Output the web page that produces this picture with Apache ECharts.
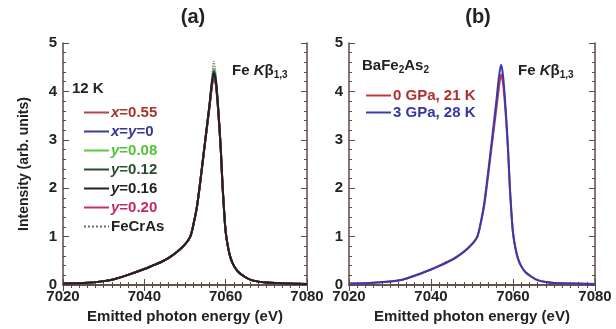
<!DOCTYPE html>
<html>
<head>
<meta charset="utf-8">
<script src="https://cdn.jsdelivr.net/npm/echarts@6/dist/echarts.min.js"></script>
<style>
  html, body { margin: 0; padding: 0; background: #fff; }
  #chart { width: 616px; height: 329px; }
</style>
</head>
<body>
<div id="chart"></div>
<script>
// emitted photon energy (eV), shared by every curve
const energy = [7020, 7025, 7030, 7033, 7036, 7040, 7042, 7044, 7046, 7048, 7050, 7051.3, 7052.2, 7053, 7054, 7055,
  7056, 7056.6, 7057.1, 7057.6, 7058.2, 7058.8, 7059.2, 7059.6, 7060, 7060.5, 7061.2, 7062, 7063, 7064.5, 7066, 7068, 7070, 7075, 7080];

// panel (a): 12 K
const x055 = [0.03,0.04,0.08,0.13,0.21,0.33,0.40,0.47,0.56,0.68,0.84,1.0,1.3,1.65,2.3,3.0,3.65,4.1,4.3,4.12,3.55,2.8,2.1,1.55,1.1,0.82,0.56,0.4,0.28,0.18,0.11,0.07,0.05,0.03,0.02];
const xy0  = [0.03,0.04,0.08,0.13,0.21,0.33,0.40,0.47,0.56,0.68,0.84,1.0,1.3,1.65,2.3,3.0,3.7,4.17,4.42,4.22,3.6,2.8,2.1,1.55,1.1,0.82,0.56,0.4,0.28,0.18,0.11,0.07,0.05,0.03,0.02];
const y008 = [0.03,0.04,0.08,0.13,0.21,0.33,0.40,0.47,0.56,0.68,0.84,1.0,1.3,1.66,2.32,3.02,3.72,4.2,4.48,4.28,3.62,2.82,2.1,1.55,1.1,0.82,0.56,0.4,0.28,0.18,0.11,0.07,0.05,0.03,0.02];
const y012 = [0.03,0.04,0.08,0.13,0.21,0.33,0.40,0.47,0.56,0.68,0.84,1.0,1.3,1.65,2.3,3.0,3.68,4.12,4.34,4.16,3.58,2.8,2.1,1.55,1.1,0.82,0.56,0.4,0.28,0.18,0.11,0.07,0.05,0.03,0.02];
const y016 = [0.03,0.04,0.08,0.13,0.21,0.33,0.40,0.47,0.56,0.68,0.84,1.0,1.3,1.65,2.3,3.0,3.7,4.15,4.38,4.2,3.6,2.8,2.1,1.55,1.1,0.82,0.56,0.4,0.28,0.18,0.11,0.07,0.05,0.03,0.02];
const y020 = [0.03,0.04,0.08,0.13,0.21,0.33,0.40,0.47,0.56,0.68,0.84,1.0,1.3,1.65,2.3,3.0,3.66,4.1,4.3,4.14,3.56,2.8,2.1,1.55,1.1,0.82,0.56,0.4,0.28,0.18,0.11,0.07,0.05,0.03,0.02];
const fecras = [0.03,0.04,0.08,0.13,0.21,0.33,0.40,0.47,0.56,0.68,0.84,1.0,1.3,1.66,2.33,3.05,3.75,4.3,4.62,4.35,3.65,2.82,2.1,1.55,1.1,0.82,0.56,0.4,0.28,0.18,0.11,0.07,0.05,0.03,0.02];

// panel (b): BaFe2As2 under pressure
const gpa0 = [0.03,0.04,0.07,0.11,0.19,0.32,0.40,0.48,0.57,0.69,0.85,1.0,1.3,1.65,2.3,3.0,3.68,4.1,4.35,4.15,3.55,2.75,2.05,1.5,1.08,0.8,0.55,0.39,0.27,0.17,0.1,0.06,0.04,0.03,0.02];
const gpa3 = [0.03,0.04,0.07,0.11,0.19,0.32,0.39,0.47,0.56,0.68,0.84,1.0,1.32,1.7,2.38,3.1,3.85,4.32,4.55,4.3,3.65,2.8,2.08,1.52,1.08,0.8,0.55,0.39,0.27,0.17,0.1,0.06,0.04,0.03,0.02];

const xTicks = [7020, 7040, 7060, 7080];
const yTicks = [0, 1, 2, 3, 4, 5];

const FONT = 'Liberation Sans, Arial, sans-serif';
const AXIS = '#5a4a42';

const pairs = ys => energy.map((e, i) => [e, ys[i]]);

// [name, values, line colour, text colour, dotted]
const seriesA = [
  ['FeCrAs', fecras, '#6a6a6a', '#222', true],
  ['y=0.08', y008, '#5cc83a', '#55c03a', false],
  ['x=0.55', x055, '#b0483c', '#a8342c', false],
  ['x=y=0', xy0, '#3a3aa8', '#3535a0', false],
  ['y=0.12', y012, '#2e4a2e', '#2c4c2c', false],
  ['y=0.20', y020, '#c8306a', '#c02a6a', false],
  ['y=0.16', y016, '#222222', '#222', false]
];
const legendOrderA = ['x=0.55', 'x=y=0', 'y=0.08', 'y=0.12', 'y=0.16', 'y=0.20', 'FeCrAs'];

const seriesB = [
  ['0 GPa, 21 K', gpa0, '#c03a3a', '#b03030'],
  ['3 GPa, 28 K', gpa3, '#3a3ab0', '#3535a5']
];

function xAxes(gridIndex) {
  return [{
    type: 'value', gridIndex, min: 7020, max: 7080, interval: 20,
    axisLine: { lineStyle: { color: AXIS, width: 1.5 } },
    axisTick: { inside: true, length: 6, lineStyle: { color: AXIS } },
    minorTick: { show: true, splitNumber: 10, length: 3, lineStyle: { color: AXIS } },
    splitLine: { show: false },
    axisLabel: {
      margin: 4, color: '#222', fontFamily: FONT, fontWeight: 'bold', fontSize: 15,
      formatter: v => xTicks.includes(v) ? String(v) : ''
    },
    name: 'Emitted photon energy (eV)', nameLocation: 'middle', nameGap: 24,
    nameTextStyle: { color: '#222', fontFamily: FONT, fontWeight: 'bold', fontSize: 15 }
  }, {
    type: 'value', gridIndex, position: 'top', min: 7020, max: 7080, interval: 20,
    axisLine: { lineStyle: { color: AXIS, width: 1.5 } },
    axisTick: { inside: true, length: 6, lineStyle: { color: AXIS } },
    minorTick: { show: true, splitNumber: 10, length: 3, lineStyle: { color: AXIS } },
    splitLine: { show: false }, axisLabel: { show: false }
  }];
}

function yAxes(gridIndex, withName) {
  return [{
    type: 'value', gridIndex, min: 0, max: 5, interval: 1,
    axisLine: { show: true, lineStyle: { color: AXIS, width: 1.5 } },
    axisTick: { show: true, inside: true, length: 6, lineStyle: { color: AXIS } },
    minorTick: { show: true, splitNumber: 5, length: 3, lineStyle: { color: AXIS } },
    splitLine: { show: false },
    axisLabel: {
      margin: 6, color: '#222', fontFamily: FONT, fontWeight: 'bold', fontSize: 15,
      formatter: v => yTicks.includes(v) ? String(v) : ''
    },
    name: withName ? 'Intensity (arb. units)' : '', nameLocation: 'middle', nameGap: 32,
    nameTextStyle: { color: '#222', fontFamily: FONT, fontWeight: 'bold', fontSize: 14 }
  }, {
    type: 'value', gridIndex, position: 'right', min: 0, max: 5, interval: 1,
    axisLine: { show: true, lineStyle: { color: AXIS, width: 1.5 } },
    axisTick: { show: true, inside: true, length: 6, lineStyle: { color: AXIS } },
    minorTick: { show: true, splitNumber: 5, length: 3, lineStyle: { color: AXIS } },
    splitLine: { show: false }, axisLabel: { show: false }
  }];
}

const series = [];
seriesA.forEach(s => series.push({
  name: s[0], type: 'line', xAxisIndex: 0, yAxisIndex: 0, data: pairs(s[1]),
  showSymbol: false, symbol: 'none', smooth: 0.3,
  lineStyle: { color: s[2], width: s[4] ? 1.3 : 2, type: s[4] ? 'dotted' : 'solid' },
  itemStyle: { color: s[2] }
}));
seriesB.forEach(s => series.push({
  name: s[0], type: 'line', xAxisIndex: 2, yAxisIndex: 2, data: pairs(s[1]),
  showSymbol: false, symbol: 'none', smooth: 0.3,
  lineStyle: { color: s[2], width: 2 }, itemStyle: { color: s[2] }
}));

const italicXY = name => name.split(/([xy])/).map(p => p === 'x' || p === 'y' ? '{i|' + p + '}' : (p ? '{n|' + p + '}' : '')).join('');

const richLegend = {
  i: { fontStyle: 'italic', fontWeight: 'bold', fontSize: 15, fontFamily: FONT },
  n: { fontWeight: 'bold', fontSize: 15, fontFamily: FONT }
};

const chart = echarts.init(document.getElementById('chart'));
chart.setOption({
  backgroundColor: '#ffffff',
  animation: false,
  title: [
    { text: '(a)', left: 188, top: 2, textAlign: 'center', textStyle: { fontFamily: FONT, fontSize: 20, fontWeight: 'bold', color: '#222' } },
    { text: '(b)', left: 473, top: 2, textAlign: 'center', textStyle: { fontFamily: FONT, fontSize: 20, fontWeight: 'bold', color: '#222' } }
  ],
  grid: [
    { left: 63, top: 43, width: 244, height: 244 },
    { left: 349, top: 43, width: 246, height: 244 }
  ],
  xAxis: [...xAxes(0), ...xAxes(1)],
  yAxis: [...yAxes(0, true), ...yAxes(1, false)],
  legend: [{
    orient: 'vertical', left: 78, top: 100, itemWidth: 25, itemHeight: 12, itemGap: 4,
    itemStyle: { opacity: 0 },
    data: legendOrderA.map(n => ({ name: n, textStyle: { color: seriesA.find(s => s[0] === n)[3] } })),
    formatter: italicXY,
    textStyle: { fontFamily: FONT, fontWeight: 'bold', fontSize: 15, padding: [0, 0, 0, -3], rich: richLegend }
  }, {
    orient: 'vertical', left: 360, top: 83, itemWidth: 25, itemHeight: 12, itemGap: 2,
    itemStyle: { opacity: 0 },
    data: seriesB.map(s => ({ name: s[0], textStyle: { color: s[3] } })),
    textStyle: { fontFamily: FONT, fontWeight: 'bold', fontSize: 15, padding: [0, 0, 0, -3] }
  }],
  graphic: [
    {
      type: 'text', left: 72, top: 81,
      style: { text: '12 K', fill: '#222', font: 'bold 15px ' + FONT }
    },
    {
      type: 'text', left: 232, top: 63,
      style: {
        text: '{n|Fe }{i|K}{n|β}{s|1,3}', fill: '#222',
        rich: {
          n: { fontWeight: 'bold', fontSize: 15, fontFamily: FONT },
          i: { fontWeight: 'bold', fontStyle: 'italic', fontSize: 15, fontFamily: FONT },
          s: { fontWeight: 'bold', fontSize: 10, fontFamily: FONT, padding: [9, 0, 0, 0] }
        }
      }
    },
    {
      type: 'text', left: 518, top: 63,
      style: {
        text: '{n|Fe }{i|K}{n|β}{s|1,3}', fill: '#222',
        rich: {
          n: { fontWeight: 'bold', fontSize: 15, fontFamily: FONT },
          i: { fontWeight: 'bold', fontStyle: 'italic', fontSize: 15, fontFamily: FONT },
          s: { fontWeight: 'bold', fontSize: 10, fontFamily: FONT, padding: [9, 0, 0, 0] }
        }
      }
    },
    {
      type: 'text', left: 362, top: 58,
      style: {
        text: '{n|BaFe}{s|2}{n|As}{s|2}', fill: '#222',
        rich: {
          n: { fontWeight: 'bold', fontSize: 15, fontFamily: FONT },
          s: { fontWeight: 'bold', fontSize: 10, fontFamily: FONT, padding: [9, 0, 0, 0] }
        }
      }
    }
  ],
  series
});
</script>
</body>
</html>
